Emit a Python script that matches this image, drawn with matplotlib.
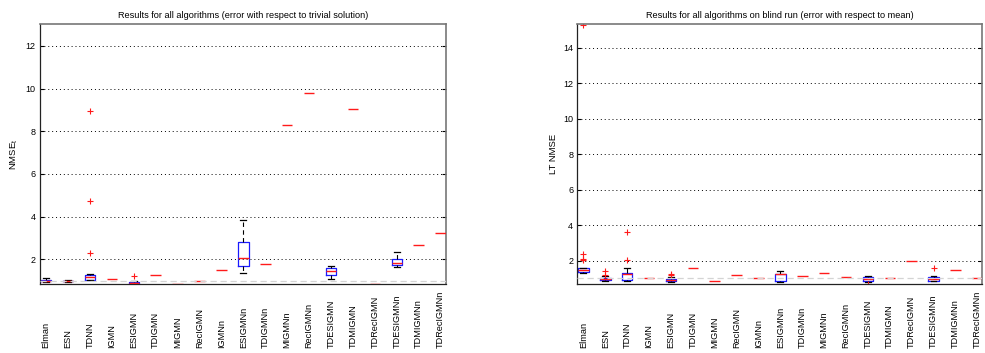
import matplotlib.pyplot as plt
import matplotlib.transforms as mtransforms

plt.rcParams['font.family'] = ['Liberation Sans', 'DejaVu Sans']

categories = ['Elman', 'ESN', 'TDNN', 'IGMN', 'ESIGMN', 'TDIGMN', 'MIGMN', 'RecIGMN',
              'IGMNn', 'ESIGMNn', 'TDIGMNn', 'MIGMNn', 'RecIGMNn', 'TDESIGMN',
              'TDMIGMN', 'TDRecIGMN', 'TDESIGMNn', 'TDMIGMNn', 'TDRecIGMNn']

# left panel: NMSE_t (error with respect to trivial solution)
left_med = [1.00, 0.98, 1.16, 1.06, 0.87, 1.28, 0.835, 0.99, 1.48, 2.05, 1.77, 8.28, 9.78,
            1.45, 9.03, 0.86, 1.81, 2.66, 3.22]
left_q1 = [0.97, 0.97, 1.04, 1.06, 0.83, 1.28, 0.835, 0.99, 1.48, 1.67, 1.77, 8.28, 9.78,
           1.28, 9.03, 0.86, 1.72, 2.66, 3.22]
left_q3 = [1.02, 0.99, 1.28, 1.06, 0.93, 1.28, 0.835, 0.99, 1.48, 2.82, 1.77, 8.28, 9.78,
           1.58, 9.03, 0.86, 2.00, 2.66, 3.22]
left_lo = [0.95, 0.96, 1.02, 1.06, 0.83, 1.28, 0.835, 0.99, 1.48, 1.36, 1.77, 8.28, 9.78,
           1.06, 9.03, 0.86, 1.63, 2.66, 3.22]
left_hi = [1.11, 1.03, 1.31, 1.06, 0.97, 1.28, 0.835, 0.99, 1.48, 3.84, 1.77, 8.28, 9.78,
           1.67, 9.03, 0.86, 2.33, 2.66, 3.22]
left_fliers = {'TDNN': [2.30, 4.75, 8.95], 'ESIGMN': [1.20]}

# right panel: LT NMSE on blind run (error with respect to mean)
right_med = [1.47, 0.96, 1.27, 1.05, 0.90, 1.59, 0.85, 1.19, 1.01, 1.24, 1.14, 1.29, 1.10,
             0.95, 1.00, 2.00, 0.98, 1.50, 1.00]
right_q1 = [1.34, 0.94, 0.93, 1.05, 0.83, 1.59, 0.85, 1.19, 1.01, 0.84, 1.14, 1.29, 1.10,
            0.87, 1.00, 2.00, 0.87, 1.50, 1.00]
right_q3 = [1.57, 1.05, 1.29, 1.05, 0.97, 1.59, 0.85, 1.19, 1.01, 1.25, 1.14, 1.29, 1.10,
            1.06, 1.00, 2.00, 1.06, 1.50, 1.00]
right_lo = [1.30, 0.85, 0.85, 1.05, 0.80, 1.59, 0.85, 1.19, 1.01, 0.80, 1.14, 1.29, 1.10,
            0.80, 1.00, 2.00, 0.84, 1.50, 1.00]
right_hi = [1.59, 1.12, 1.57, 1.05, 1.06, 1.59, 0.85, 1.19, 1.01, 1.41, 1.14, 1.29, 1.10,
            1.12, 1.00, 2.00, 1.14, 1.50, 1.00]
right_fliers = {'Elman': [2.02, 2.08, 2.38, 15.3], 'ESN': [1.22, 1.40], 'TDNN': [2.03, 3.62],
                'ESIGMN': [1.17, 1.27], 'TDESIGMN': [0.68], 'TDESIGMNn': [1.60]}


def build_stats(med, q1, q3, lo, hi, fliers):
    stats = []
    for i, name in enumerate(categories):
        stats.append({'med': med[i], 'q1': q1[i], 'q3': q3[i], 'whislo': lo[i],
                      'whishi': hi[i], 'fliers': fliers.get(name, []), 'label': name})
    return stats


def draw_panel(ax, stats, title, ylabel, ylim, yticks):
    pos = list(range(1, len(categories) + 1))
    # runs with spread get a full box, single-valued runs only a median line
    full = [(p, s) for p, s in zip(pos, stats) if s['q3'] > s['q1']]
    flat = [(p, s) for p, s in zip(pos, stats) if s['q3'] <= s['q1']]
    common = dict(widths=0.48, manage_ticks=False,
                  medianprops=dict(color='#ff1a1a', lw=1.0, zorder=4),
                  flierprops=dict(marker='+', markeredgecolor='#ff1a1a', markersize=5,
                                  markeredgewidth=0.8, linestyle='none'))
    ax.bxp([s for p, s in full], positions=[p for p, s in full], capwidths=0.27,
           boxprops=dict(color='#1a1aff', lw=0.9),
           whiskerprops=dict(color='k', lw=0.8, linestyle=(0, (4, 3))),
           capprops=dict(color='k', lw=0.9), **common)
    ax.bxp([s for p, s in flat], positions=[p for p, s in flat], showbox=False,
           showcaps=False, whiskerprops=dict(lw=0), **common)
    ax.axhline(1.0, color='#d4d4d4', lw=0.9, linestyle=(0, (5, 3)), zorder=5)
    ax.set_xlim(0.72, 19.23)
    ax.set_ylim(*ylim)
    ax.set_yticks(yticks)
    ax.set_xticks([])
    ax.yaxis.grid(True, color='k', linestyle=(0, (1, 3)), lw=0.7)
    ax.set_axisbelow(True)
    ax.tick_params(axis='y', direction='in', length=3, labelsize=6.5, right=True, pad=3)
    for side in ['top', 'right']:
        ax.spines[side].set_color('#777777')
        ax.spines[side].set_linewidth(1.2)
    for side in ['left', 'bottom']:
        ax.spines[side].set_color('#222222')
        ax.spines[side].set_linewidth(0.9)
    ax.set_title(title, fontsize=6.6, pad=5)
    ax.set_ylabel(ylabel, fontsize=6.8, labelpad=4)
    trans = mtransforms.blended_transform_factory(ax.transData, ax.transAxes)
    for p, name in zip(pos, categories):
        ax.text(p, -0.245, name, transform=trans, rotation=90, ha='center', va='bottom',
                fontsize=6.6)


fig = plt.figure(figsize=(9.85, 3.53), dpi=100)
ax1 = fig.add_axes([0.0406, 0.1946, 0.4119, 0.736])
ax2 = fig.add_axes([0.5861, 0.1946, 0.4112, 0.736])

draw_panel(ax1, build_stats(left_med, left_q1, left_q3, left_lo, left_hi, left_fliers),
           'Results for all algorithms (error with respect to trivial solution)',
           'NMSE$_\\mathregular{t}$', (0.83, 13.0), [2, 4, 6, 8, 10, 12])
draw_panel(ax2, build_stats(right_med, right_q1, right_q3, right_lo, right_hi, right_fliers),
           'Results for all algorithms on blind run (error with respect to mean)',
           'LT NMSE', (0.67, 15.32), [2, 4, 6, 8, 10, 12, 14])

fig.savefig('out.png', dpi=100)
